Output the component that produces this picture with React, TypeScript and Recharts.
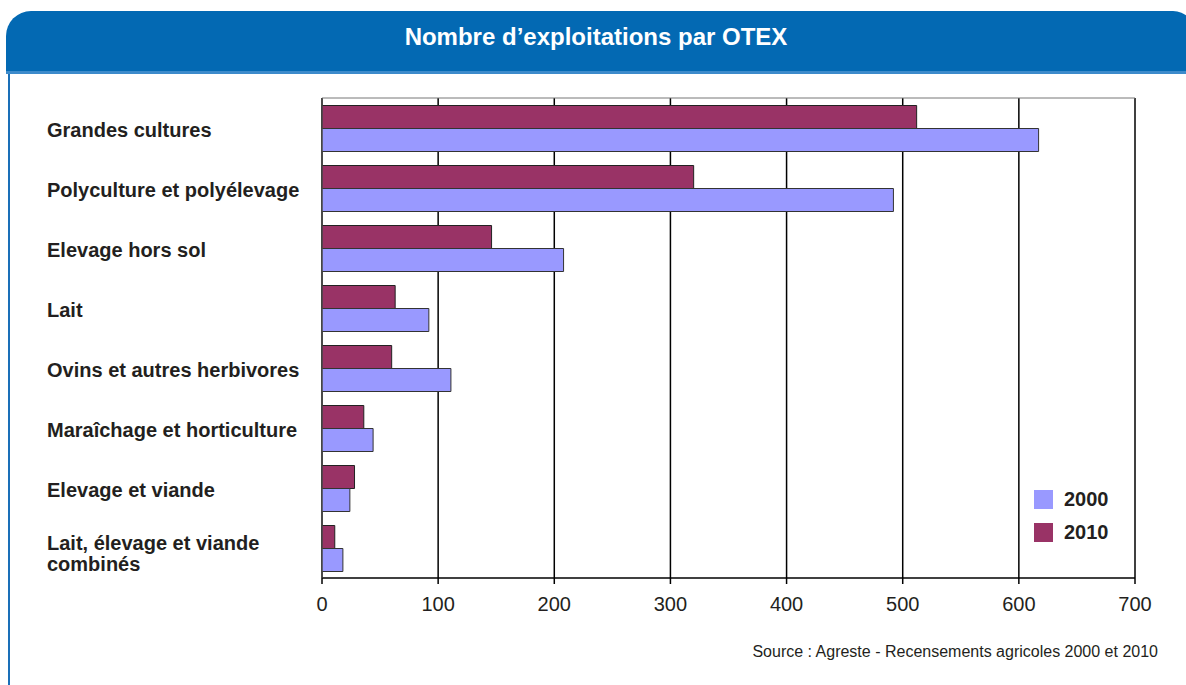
import React from 'react';
import { BarChart, Bar, XAxis, YAxis, CartesianGrid, Legend } from 'recharts';

const categories = [
  'Grandes cultures',
  'Polyculture et polyélevage',
  'Elevage hors sol',
  'Lait',
  'Ovins et autres herbivores',
  'Maraîchage et horticulture',
  'Elevage et viande',
  'Lait, élevage et viande\ncombinés',
];
const values2000 = [617, 492, 208, 92, 111, 44, 24, 18];
const values2010 = [512, 320, 146, 63, 60, 36, 28, 11];
const xTicks = [0, 100, 200, 300, 400, 500, 600, 700];
const title = 'Nombre d\u2019exploitations par OTEX';
const source = 'Source : Agreste - Recensements agricoles 2000 et 2010';

const data = categories.map((c, i) => ({ cat: c, y2000: values2000[i], y2010: values2010[i] }));

const FONT = '"Liberation Sans", Arial, sans-serif';
const C2000 = '#9999FF';
const C2010 = '#993366';
const TEXT = '#231F20';

const CatTick = (props: any) => {
  const { y, payload } = props;
  const lines = String(payload.value).split('\n');
  if (lines.length === 1) {
    return (
      <text x={47} y={y + 2} fontFamily={FONT} fontSize={20} fontWeight="bold" fill={TEXT} dominantBaseline="central">
        {lines[0]}
      </text>
    );
  }
  return (
    <text x={47} fontFamily={FONT} fontSize={20} fontWeight="bold" fill={TEXT} dominantBaseline="central">
      {lines.map((l, i) => (
        <tspan key={i} x={47} y={y - 5 + i * 21}>{l}</tspan>
      ))}
    </text>
  );
};

const LegendContent = (props: any) => {
  const items = [...(props.payload || [])].sort((a: any, b: any) => String(a.value).localeCompare(String(b.value)));
  return (
    <div style={{ fontFamily: FONT }}>
      {items.map((it: any, i: number) => (
        <div key={i} style={{ display: 'flex', alignItems: 'center', height: 19, marginBottom: 14 }}>
          <div style={{ width: 19, height: 19, background: it.color }} />
          <span style={{ marginLeft: 11, fontSize: 20, fontWeight: 'bold', color: TEXT, lineHeight: '19px' }}>{it.value}</span>
        </div>
      ))}
    </div>
  );
};

export default function App() {
  return (
    <div style={{ position: 'absolute', left: 0, top: 0, width: 1186, height: 685, background: '#fff', overflow: 'hidden' }}>
      <div
        style={{
          position: 'absolute', left: 6, top: 11, width: 1189, height: 60,
          background: '#0369B3', borderTopLeftRadius: 25, borderTopRightRadius: 22,
          borderBottom: '3px solid #3D8BCB',
          color: '#fff', fontFamily: FONT, fontWeight: 'bold', fontSize: 24,
          boxSizing: 'content-box',
        }}
      >
        <span style={{ position: 'absolute', left: 0, width: 1180, textAlign: 'center', top: 12 }}>{title}</span>
      </div>
      <div style={{ position: 'absolute', left: 8, top: 74, width: 2, height: 611, background: '#1A6FB8' }} />
      <div style={{ position: 'absolute', left: 0, top: 0 }}>
        <BarChart
          width={1186}
          height={685}
          data={data}
          layout="vertical"
          margin={{ top: 98, right: 51, bottom: 67, left: 22 }}
          barCategoryGap="12.5%"
          barGap={0}
        >
          <CartesianGrid vertical horizontal={false} stroke="#000" strokeWidth={1.5} />
          <CartesianGrid
            vertical={false}
            horizontal
            stroke="#777"
            strokeWidth={1}
            horizontalCoordinatesGenerator={(p: any) => [p.offset.top]}
          />
          <XAxis
            type="number"
            domain={[0, 700]}
            ticks={xTicks}
            interval={0}
            height={40}
            stroke="#000"
            strokeWidth={1.5}
            tickSize={6}
            tickMargin={13}
            tick={{ fill: TEXT, fontSize: 20, fontFamily: FONT }}
            tickLine={{ stroke: '#000' }}
          />
          <YAxis
            type="category"
            dataKey="cat"
            width={300}
            stroke="#555"
            tickLine={false}
            tick={<CatTick />}
            interval={0}
          />
          <Legend
            layout="vertical"
            align="center"
            verticalAlign="middle"
            content={<LegendContent />}
            wrapperStyle={{ position: 'absolute', left: 1034, top: 490, width: 120, height: 80 }}
          />
          <Bar dataKey="y2010" name="2010" fill={C2010} stroke="#222" strokeWidth={1} isAnimationActive={false} />
          <Bar dataKey="y2000" name="2000" fill={C2000} stroke="#333" strokeWidth={1} isAnimationActive={false} />
        </BarChart>
      </div>
      <div style={{ position: 'absolute', right: 28, top: 643, fontFamily: FONT, fontSize: 16, color: TEXT, whiteSpace: 'nowrap' }}>
        {source}
      </div>
    </div>
  );
}
